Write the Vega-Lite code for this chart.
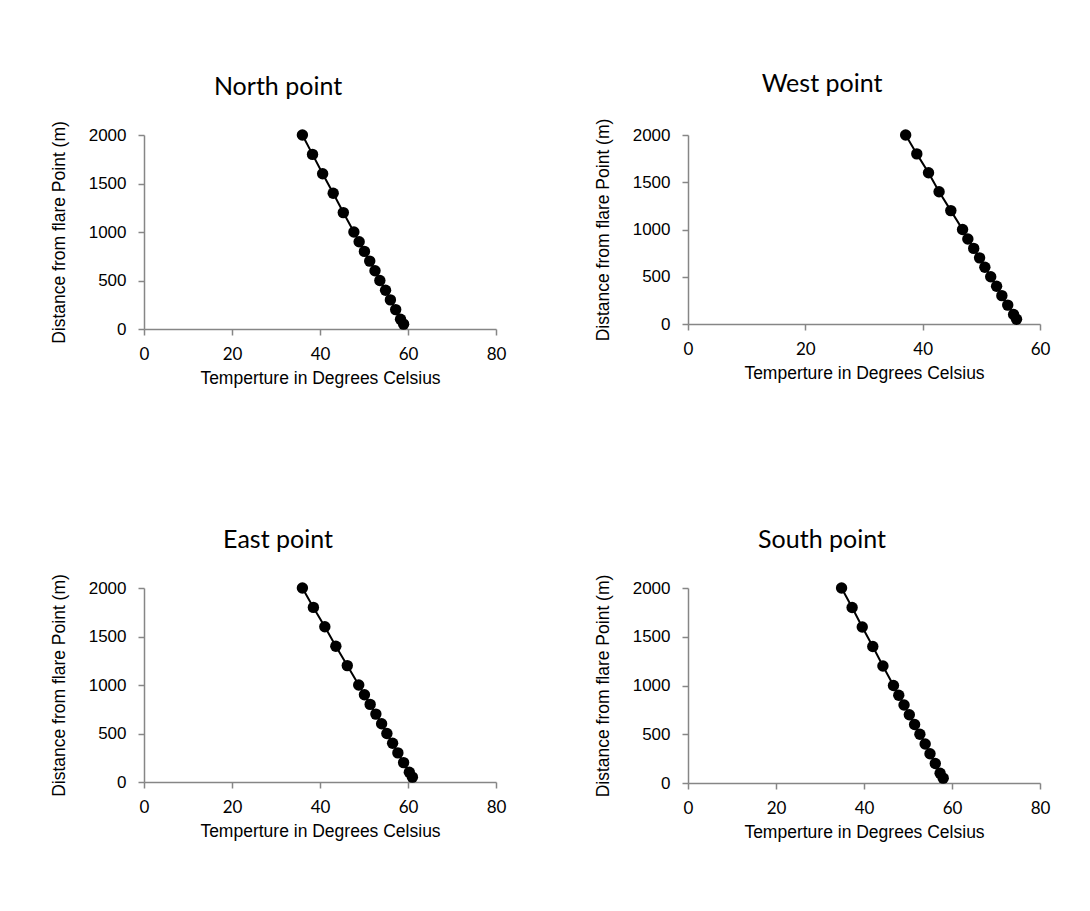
{
  "$schema": "https://vega.github.io/schema/vega-lite/v6.json",
  "background": "white",
  "padding": {"left": 50, "top": 72, "right": 40, "bottom": 60},
  "datasets": {
    "temps": [
      {"panel": "North", "distance": 2000, "temp": 36.0},
      {"panel": "North", "distance": 1800, "temp": 38.3},
      {"panel": "North", "distance": 1600, "temp": 40.6},
      {"panel": "North", "distance": 1400, "temp": 43.0},
      {"panel": "North", "distance": 1200, "temp": 45.3},
      {"panel": "North", "distance": 1000, "temp": 47.7},
      {"panel": "North", "distance": 900, "temp": 48.9},
      {"panel": "North", "distance": 800, "temp": 50.1},
      {"panel": "North", "distance": 700, "temp": 51.3},
      {"panel": "North", "distance": 600, "temp": 52.5},
      {"panel": "North", "distance": 500, "temp": 53.6},
      {"panel": "North", "distance": 400, "temp": 54.9},
      {"panel": "North", "distance": 300, "temp": 56.0},
      {"panel": "North", "distance": 200, "temp": 57.2},
      {"panel": "North", "distance": 100, "temp": 58.3},
      {"panel": "North", "distance": 50, "temp": 59.0},
      {"panel": "West", "distance": 2000, "temp": 37.1},
      {"panel": "West", "distance": 1800, "temp": 39.0},
      {"panel": "West", "distance": 1600, "temp": 41.0},
      {"panel": "West", "distance": 1400, "temp": 42.8},
      {"panel": "West", "distance": 1200, "temp": 44.8},
      {"panel": "West", "distance": 1000, "temp": 46.8},
      {"panel": "West", "distance": 900, "temp": 47.7},
      {"panel": "West", "distance": 800, "temp": 48.7},
      {"panel": "West", "distance": 700, "temp": 49.7},
      {"panel": "West", "distance": 600, "temp": 50.6},
      {"panel": "West", "distance": 500, "temp": 51.6},
      {"panel": "West", "distance": 400, "temp": 52.6},
      {"panel": "West", "distance": 300, "temp": 53.5},
      {"panel": "West", "distance": 200, "temp": 54.5},
      {"panel": "West", "distance": 100, "temp": 55.5},
      {"panel": "West", "distance": 50, "temp": 56.0},
      {"panel": "East", "distance": 2000, "temp": 36.0},
      {"panel": "East", "distance": 1800, "temp": 38.5},
      {"panel": "East", "distance": 1600, "temp": 41.1},
      {"panel": "East", "distance": 1400, "temp": 43.6},
      {"panel": "East", "distance": 1200, "temp": 46.2},
      {"panel": "East", "distance": 1000, "temp": 48.8},
      {"panel": "East", "distance": 900, "temp": 50.1},
      {"panel": "East", "distance": 800, "temp": 51.4},
      {"panel": "East", "distance": 700, "temp": 52.7},
      {"panel": "East", "distance": 600, "temp": 54.0},
      {"panel": "East", "distance": 500, "temp": 55.2},
      {"panel": "East", "distance": 400, "temp": 56.5},
      {"panel": "East", "distance": 300, "temp": 57.7},
      {"panel": "East", "distance": 200, "temp": 59.0},
      {"panel": "East", "distance": 100, "temp": 60.3},
      {"panel": "East", "distance": 50, "temp": 61.0},
      {"panel": "South", "distance": 2000, "temp": 34.9},
      {"panel": "South", "distance": 1800, "temp": 37.3},
      {"panel": "South", "distance": 1600, "temp": 39.6},
      {"panel": "South", "distance": 1400, "temp": 42.0},
      {"panel": "South", "distance": 1200, "temp": 44.3},
      {"panel": "South", "distance": 1000, "temp": 46.7},
      {"panel": "South", "distance": 900, "temp": 47.9},
      {"panel": "South", "distance": 800, "temp": 49.1},
      {"panel": "South", "distance": 700, "temp": 50.3},
      {"panel": "South", "distance": 600, "temp": 51.5},
      {"panel": "South", "distance": 500, "temp": 52.7},
      {"panel": "South", "distance": 400, "temp": 53.9},
      {"panel": "South", "distance": 300, "temp": 55.0},
      {"panel": "South", "distance": 200, "temp": 56.2},
      {"panel": "South", "distance": 100, "temp": 57.3},
      {"panel": "South", "distance": 50, "temp": 58.0}
    ]
  },
  "columns": 2,
  "bounds": "flush",
  "spacing": {"column": 192, "row": 259},
  "concat": [
    {
      "title": "North point",
      "width": 352,
      "height": 194,
      "data": {"name": "temps"},
      "transform": [{"filter": "datum.panel === 'North'"}],
      "encoding": {
        "x": {"field": "temp", "type": "quantitative", "title": "Temperture in Degrees Celsius",
              "scale": {"domain": [0, 80], "nice": false, "zero": false}, "axis": {"values": [0, 20, 40, 60, 80]}},
        "y": {"field": "distance", "type": "quantitative", "title": "Distance from flare Point (m)",
              "scale": {"domain": [0, 2000], "nice": false}, "axis": {"values": [0, 500, 1000, 1500, 2000], "format": "d"}},
        "order": {"field": "distance", "type": "quantitative"}
      },
      "layer": [
        {"mark": {"type": "line", "color": "black", "strokeWidth": 2}},
        {"mark": {"type": "point", "filled": true, "color": "black", "opacity": 1, "size": 130}}
      ]
    },
    {
      "title": "West point",
      "width": 352,
      "height": 189,
      "data": {"name": "temps"},
      "transform": [{"filter": "datum.panel === 'West'"}],
      "encoding": {
        "x": {"field": "temp", "type": "quantitative", "title": "Temperture in Degrees Celsius",
              "scale": {"domain": [0, 60], "nice": false, "zero": false}, "axis": {"values": [0, 20, 40, 60]}},
        "y": {"field": "distance", "type": "quantitative", "title": "Distance from flare Point (m)",
              "scale": {"domain": [0, 2000], "nice": false}, "axis": {"values": [0, 500, 1000, 1500, 2000], "format": "d"}},
        "order": {"field": "distance", "type": "quantitative"}
      },
      "layer": [
        {"mark": {"type": "line", "color": "black", "strokeWidth": 2}},
        {"mark": {"type": "point", "filled": true, "color": "black", "opacity": 1, "size": 130}}
      ]
    },
    {
      "title": "East point",
      "width": 352,
      "height": 194,
      "data": {"name": "temps"},
      "transform": [{"filter": "datum.panel === 'East'"}],
      "encoding": {
        "x": {"field": "temp", "type": "quantitative", "title": "Temperture in Degrees Celsius",
              "scale": {"domain": [0, 80], "nice": false, "zero": false}, "axis": {"values": [0, 20, 40, 60, 80]}},
        "y": {"field": "distance", "type": "quantitative", "title": "Distance from flare Point (m)",
              "scale": {"domain": [0, 2000], "nice": false}, "axis": {"values": [0, 500, 1000, 1500, 2000], "format": "d"}},
        "order": {"field": "distance", "type": "quantitative"}
      },
      "layer": [
        {"mark": {"type": "line", "color": "black", "strokeWidth": 2}},
        {"mark": {"type": "point", "filled": true, "color": "black", "opacity": 1, "size": 130}}
      ]
    },
    {
      "title": "South point",
      "width": 352,
      "height": 195,
      "data": {"name": "temps"},
      "transform": [{"filter": "datum.panel === 'South'"}],
      "encoding": {
        "x": {"field": "temp", "type": "quantitative", "title": "Temperture in Degrees Celsius",
              "scale": {"domain": [0, 80], "nice": false, "zero": false}, "axis": {"values": [0, 20, 40, 60, 80]}},
        "y": {"field": "distance", "type": "quantitative", "title": "Distance from flare Point (m)",
              "scale": {"domain": [0, 2000], "nice": false}, "axis": {"values": [0, 500, 1000, 1500, 2000], "format": "d"}},
        "order": {"field": "distance", "type": "quantitative"}
      },
      "layer": [
        {"mark": {"type": "line", "color": "black", "strokeWidth": 2}},
        {"mark": {"type": "point", "filled": true, "color": "black", "opacity": 1, "size": 130}}
      ]
    }
  ],
  "config": {
    "view": {"stroke": null},
    "title": {"font": "Lato", "fontSize": 25, "fontWeight": "normal", "color": "black", "anchor": "middle", "frame": "bounds", "offset": 21},
    "axis": {
      "grid": false,
      "domainColor": "#868686",
      "domainWidth": 1.5,
      "tickColor": "#868686",
      "tickWidth": 1.5,
      "tickSize": 6,
      "labelColor": "black",
      "titleColor": "black",
      "titleFontWeight": "normal",
      "labelFlush": false,
      "labelOverlap": false
    },
    "axisX": {
      "labelFont": "Lato",
      "labelFontSize": 17,
      "labelPadding": 11,
      "titleFont": "Liberation Sans",
      "titleFontSize": 17.5,
      "titlePadding": 7
    },
    "axisY": {
      "labelFont": "Liberation Sans",
      "labelFontSize": 17,
      "labelPadding": 12,
      "titleFont": "Liberation Sans",
      "titleFontSize": 17.5,
      "titlePadding": 20
    }
  }
}
